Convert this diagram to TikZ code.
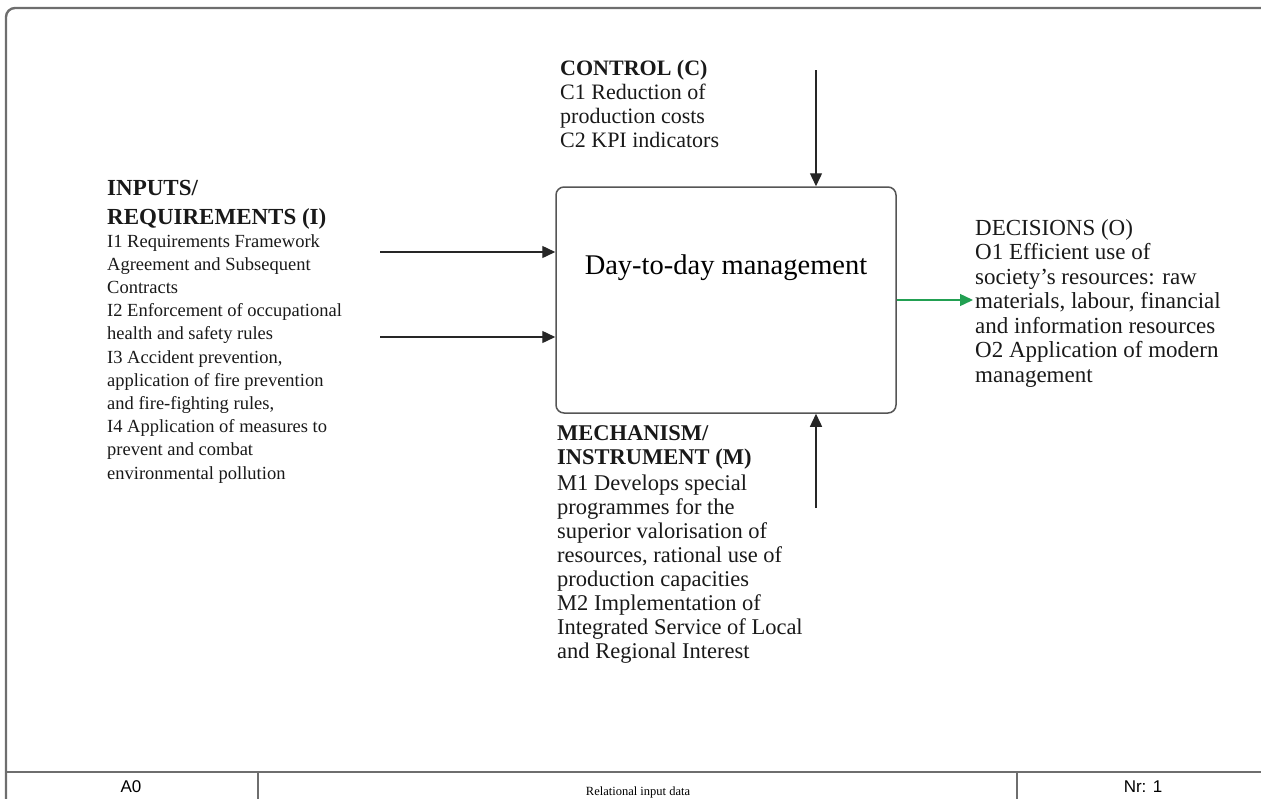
\documentclass[tikz,border=0pt]{standalone}
\usepackage{fontspec}
\setmainfont{Liberation Serif}
\newfontfamily\framesans{Liberation Sans}
\usetikzlibrary{arrows.meta}
\definecolor{framegray}{RGB}{110,110,110}
\definecolor{boxgray}{RGB}{85,85,85}
\definecolor{flowgreen}{RGB}{34,160,82}
\begin{document}
\begin{tikzpicture}[x=1pt,y=-1pt,
  txt/.style={anchor=north west,inner sep=0pt,align=left,text=black!90},
  bodysmall/.style={txt,font=\fontsize{18.5}{23.2}\selectfont},
  bodylarge/.style={txt,font=\fontsize{22.5}{24}\selectfont},
  bodyright/.style={txt,font=\fontsize{23}{24.5}\selectfont},
  headsmall/.style={txt,font=\fontsize{23}{29}\selectfont\bfseries},
  arr/.style={line width=1.4pt,draw=black!85,-{Triangle[length=13pt,width=12pt]}},
  garr/.style={line width=1.4pt,draw=flowgreen,-{Triangle[length=13pt,width=12pt,fill=flowgreen]}},
  funcbox/.style={draw=boxgray,line width=1.5pt,rounded corners=8pt,minimum width=340pt,minimum height=226pt,inner sep=0pt},
  framecell/.style={inner sep=0pt,font=\framesans\fontsize{17}{20}\selectfont}
]
\useasboundingbox (0,0) rectangle (1261,798);

% page frame with title strip
\draw[framegray,line width=2.4pt,rounded corners=9pt] (6,800) -- (6,8) -- (1265,8);
\draw[framegray,line width=2pt] (6,772) -- (1265,772);
\draw[framegray,line width=2pt] (258,772) -- (258,800);
\draw[framegray,line width=2pt] (1017,772) -- (1017,800);
\node[framecell] (nodeid) at (131,787) {A0};
\node[inner sep=0pt,font=\fontsize{12.5}{14}\selectfont] (title) at (638,792) {Relational input data};
\node[framecell] (pageno) at (1143,787) {Nr: 1};

% activity box
\node[funcbox] (box) at (726,300) {};
\node[inner sep=0pt,font=\fontsize{28.5}{30}\selectfont] (boxlabel) at (726,268) {Day-to-day management};

% control
\node[headsmall,font=\fontsize{22}{24}\selectfont\bfseries] (ctlhead) at (560,60) {CONTROL (C)};
\node[bodylarge,font=\fontsize{22}{24}\selectfont] (ctlbody) at (560,84) {C1 Reduction of\\production costs\\C2 KPI indicators};
\coordinate (ctlstart) at (816,70);
\draw[arr] (ctlstart) -- (ctlstart |- box.north);

% inputs
\node[headsmall] (inhead) at (107,180) {INPUTS/\\REQUIREMENTS (I)};
\node[bodysmall] (inbody) at (107,234) {I1 Requirements Framework\\Agreement and Subsequent\\Contracts\\I2 Enforcement of occupational\\health and safety rules\\I3 Accident prevention,\\application of fire prevention\\and fire-fighting rules,\\I4 Application of measures to\\prevent and combat\\environmental pollution};
\coordinate (inA) at (380,252);
\coordinate (inB) at (380,337);
\draw[arr] (inA) -- (inA -| box.west);
\draw[arr] (inB) -- (inB -| box.west);

% outputs
\node[bodyright] (outbody) at (975,219) {DECISIONS (O)\\O1 Efficient use of\\society's resources: raw\\materials, labour, financial\\and information resources\\O2 Application of modern\\management};
\coordinate (outend) at (973,300);
\draw[garr] (box.east |- outend) -- (outend);

% mechanisms
\node[headsmall,font=\fontsize{22.5}{24}\selectfont\bfseries] (mechhead) at (557,425) {MECHANISM/\\INSTRUMENT (M)};
\node[bodylarge] (mechbody) at (557,475) {M1 Develops special\\programmes for the\\superior valorisation of\\resources, rational use of\\production capacities\\M2 Implementation of\\Integrated Service of Local\\and Regional Interest};
\coordinate (mechstart) at (816,508);
\draw[arr] (mechstart) -- (mechstart |- box.south);
\end{tikzpicture}
\end{document}
